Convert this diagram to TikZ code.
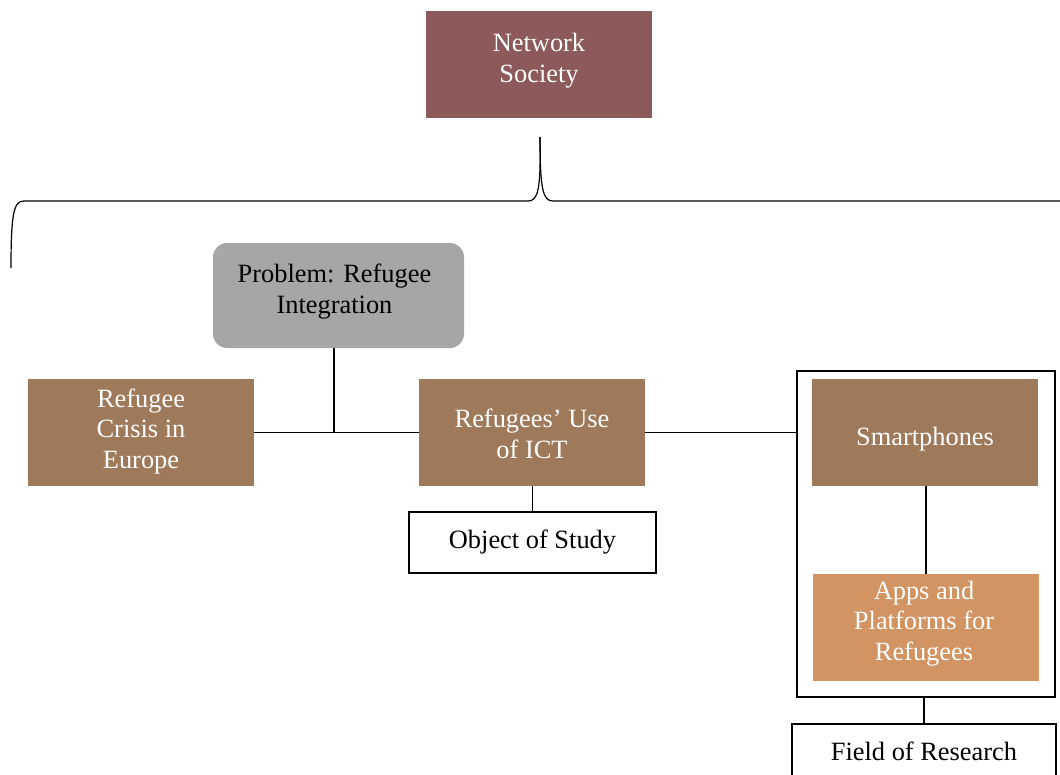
\documentclass[tikz,border=0pt]{standalone}
\usepackage{fontspec}
\setmainfont{Liberation Serif}
\definecolor{netc}{HTML}{8C5A5A}
\definecolor{brownc}{HTML}{9E7A5A}
\definecolor{appc}{HTML}{D19462}
\definecolor{grayc}{HTML}{A6A6A6}
\begin{document}
\begin{tikzpicture}[x=1pt,y=-1pt,
  box/.style={rectangle,inner sep=0pt,align=center},
  txt/.style={inner sep=0pt,align=center,font=\fontsize{26.4}{30.6}\selectfont},
  wtxt/.style={txt,text=white},
  wbox/.style={box,draw=black,line width=1.5pt,fill=white},
  conn/.style={line width=1.6pt}]
\useasboundingbox (0,0) rectangle (1060,774);
\clip (0,0) rectangle (1060,774);
\fill[white] (0,0) rectangle (1060,774);

\node[box,fill=netc,minimum width=226pt,minimum height=107pt] (net) at (539,64.5) {};
\node[wtxt] (nett) at ([yshift=4pt]net.center) {Network\\Society};
\coordinate (tip) at (540,137);
\draw[line width=1.2pt] (tip) .. controls (541,190) and (538,201) .. (528,201) -- (24,201) .. controls (14,201) and (11,212) .. (11,268);
\draw[line width=1.2pt] (tip) .. controls (540,190) and (543,201) .. (553,201) -- (1062,201);

\node[box,fill=grayc,rounded corners=14pt,minimum width=251pt,minimum height=105pt] (prob) at (338.5,295.5) {};
\node[txt] (probt) at ([xshift=-4pt,yshift=4pt]prob.center) {Problem: Refugee\\Integration};
\node[box,fill=brownc,minimum width=226pt,minimum height=107pt] (crisis) at (141,432.5) {};
\node[wtxt] (crisist) at ([yshift=1pt]crisis.center) {Refugee\\Crisis in\\Europe};
\node[box,fill=brownc,minimum width=226pt,minimum height=107pt] (ict) at (532,432.5) {};
\node[wtxt] (ictt) at ([yshift=-1.5pt]ict.center) {Refugees’ Use\\of ICT};
\node[wbox,minimum width=247pt,minimum height=61pt] (obj) at (532.5,542.5) {};
\node[txt] (objt) at (obj.center) {Object of Study};

\node[draw=black,line width=1.5pt,minimum width=258pt,minimum height=326pt,inner sep=0pt] (outer) at (926,534) {};
\node[box,fill=brownc,minimum width=226pt,minimum height=107pt] (smart) at (925,432.5) {};
\node[wtxt] (smartt) at ([yshift=-7pt]smart.center) {Smartphones};
\node[box,fill=appc,minimum width=226pt,minimum height=107pt] (apps) at (926,627.5) {};
\node[wtxt] (appst) at ([xshift=-2pt,yshift=4pt]apps.center) {Apps and\\Platforms for\\Refugees};
\node[wbox,minimum width=264pt,minimum height=90pt,anchor=north] (field) at (924,723) {};
\node[txt,anchor=base] (fieldt) at (924,760) {Field of Research};

\coordinate (j) at (334,432);
\draw[conn] (prob.south -| j) -- (j);
\draw[conn] (crisis.east) -- (ict.west);
\draw[conn] (ict.east) -- (outer.west |- ict.east);
\draw[conn] (ict.south -| obj.north) -- (obj.north);
\draw[conn] (smart.south -| apps.north) -- (apps.north);
\draw[conn] (outer.south -| field.north) -- (field.north);
\end{tikzpicture}
\end{document}
